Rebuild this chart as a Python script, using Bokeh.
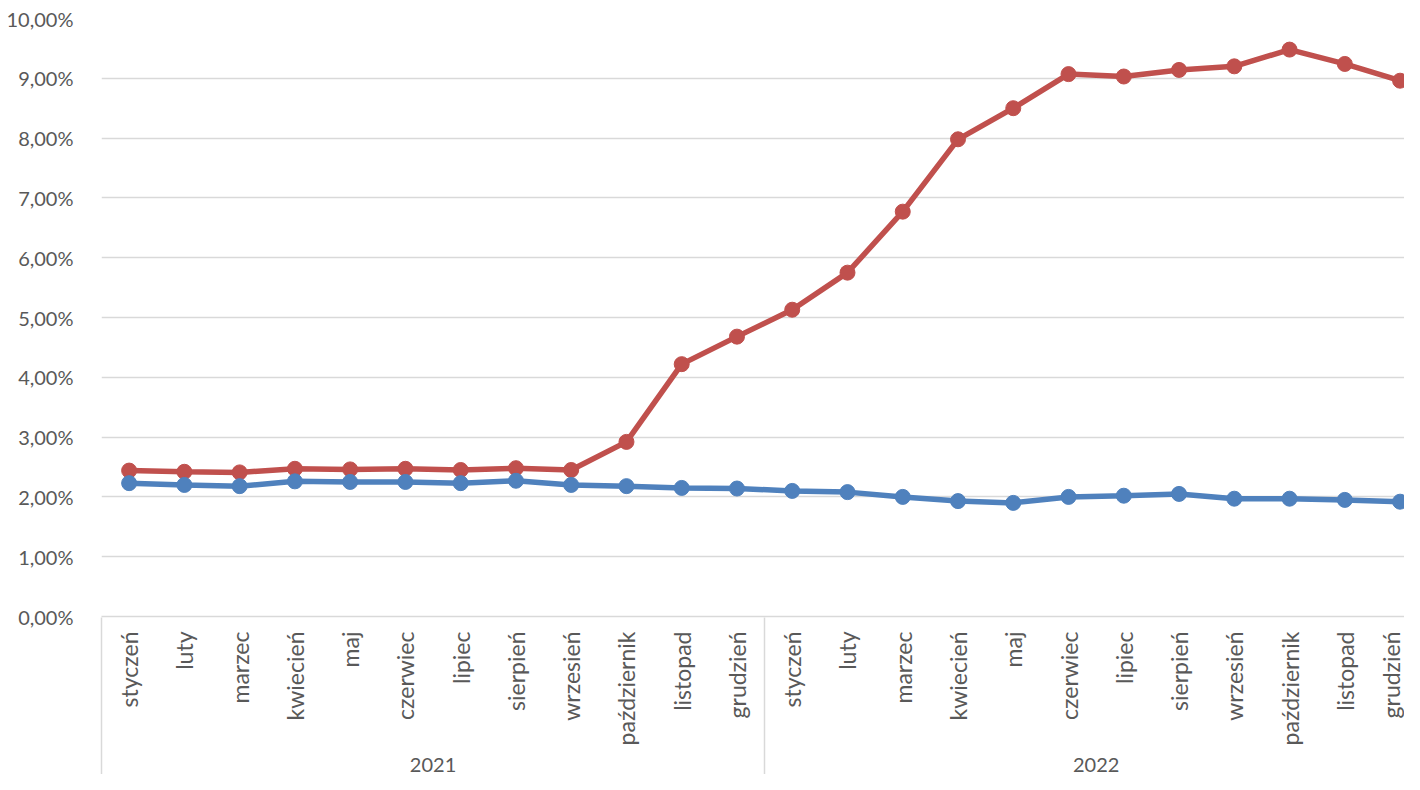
from math import pi
from bokeh.plotting import figure
from bokeh.models import LinearAxis, FixedTicker, Grid, Range1d
from bokeh.embed import file_html
from bokeh.resources import INLINE

# ---- data ----
months = ["styczeń", "luty", "marzec", "kwiecień", "maj", "czerwiec",
          "lipiec", "sierpień", "wrzesień", "październik", "listopad", "grudzień"]
years = ["2021", "2022"]
categories = [m for y in years for m in months]

red_series = [2.44, 2.42, 2.41, 2.47, 2.46, 2.47, 2.45, 2.48, 2.45, 2.92, 4.22, 4.68,
              5.13, 5.75, 6.77, 7.98, 8.50, 9.07, 9.03, 9.14, 9.20, 9.48, 9.24, 8.96]
blue_series = [2.23, 2.20, 2.18, 2.26, 2.25, 2.25, 2.23, 2.27, 2.20, 2.18, 2.15, 2.14,
               2.10, 2.08, 2.00, 1.93, 1.90, 2.00, 2.02, 2.05, 1.97, 1.97, 1.95, 1.92]
y_ticks = list(range(0, 11))

FONT = "Lato"
TXT = "#595959"
GRID = "#D9D9D9"
RED = "#C0504D"
BLUE = "#4F81BD"

xs = list(range(len(categories)))

p = figure(width=1404, height=774, output_backend="svg", toolbar_location=None,
           x_axis_type=None, y_axis_type=None,
           x_range=Range1d(-0.5, 23.08), y_range=Range1d(0, 10),
           min_border_left=101, min_border_right=0, min_border_top=18, min_border_bottom=0)
p.outline_line_color = None
p.background_fill_color = "white"
p.border_fill_color = "white"

# y axis
yticker = FixedTicker(ticks=y_ticks)
yaxis = LinearAxis(ticker=yticker,
                   major_label_overrides={t: f"{t},00%" for t in y_ticks},
                   axis_line_color=None, major_tick_line_color=None, minor_tick_line_color=None,
                   major_label_standoff=22,
                   major_label_text_font=FONT, major_label_text_font_size="20px",
                   major_label_text_color=TXT)
p.add_layout(yaxis, "left")
p.add_layout(Grid(dimension=1, ticker=yticker, grid_line_color=GRID, grid_line_width=1.5))

# month axis
xaxis = LinearAxis(ticker=FixedTicker(ticks=xs),
                   major_label_overrides={i: c for i, c in zip(xs, categories)},
                   major_label_orientation=pi / 2,
                   axis_line_color=GRID, axis_line_width=1.5,
                   major_tick_line_color=None, minor_tick_line_color=None,
                   major_tick_out=0, minor_tick_out=0,
                   major_label_standoff=15,
                   major_label_text_font=FONT, major_label_text_font_size="23px",
                   major_label_text_color=TXT)
p.add_layout(xaxis, "below")

# year axis (group separators as its minor ticks, reaching up to the month axis line)
n_per_year = len(months)
group_bounds = [-0.5] + [n_per_year * (i + 1) - 0.5 for i in range(len(years))]
year_centers = [n_per_year * i + (n_per_year - 1) / 2 for i in range(len(years))]
month_axis_size = 131
yearaxis = LinearAxis(ticker=FixedTicker(ticks=year_centers, minor_ticks=group_bounds),
                      major_label_overrides={c: y for c, y in zip(year_centers, years)},
                      axis_line_color=None, major_tick_line_color=None,
                      major_tick_in=0, major_tick_out=0,
                      minor_tick_line_color=GRID, minor_tick_line_width=1.5,
                      minor_tick_in=month_axis_size, minor_tick_out=33,
                      major_label_standoff=-24,
                      major_label_text_font=FONT, major_label_text_font_size="20px",
                      major_label_text_color=TXT)
p.add_layout(yearaxis, "below")

# series
p.line(xs, red_series, line_color=RED, line_width=5.5)
p.scatter(xs, red_series, size=15, fill_color=RED, line_color=RED)
p.line(xs, blue_series, line_color=BLUE, line_width=5.5)
p.scatter(xs, blue_series, size=15, fill_color=BLUE, line_color=BLUE)

open("out.html", "w").write(file_html(p, INLINE))
